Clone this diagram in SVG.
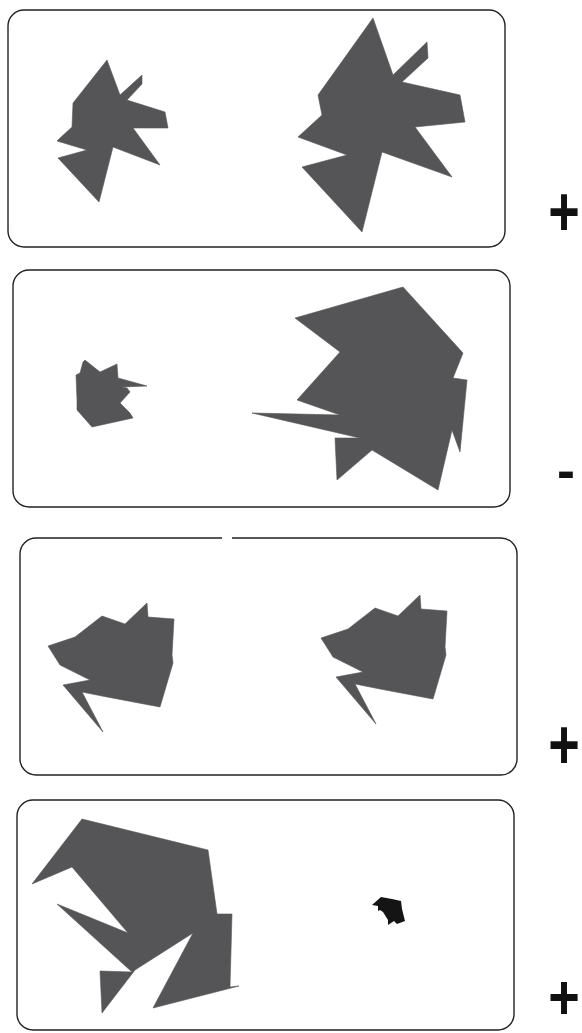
<svg xmlns="http://www.w3.org/2000/svg" width="582" height="1033" viewBox="0 0 582 1033">
<style>
.box{fill:none;stroke:#222;stroke-width:1.4}
.shape{fill:#555557;stroke:#555557;stroke-width:0.6;stroke-linejoin:miter}
.dark{fill:#141414}
.sign{font-family:"Liberation Sans",Arial,sans-serif;font-weight:bold;font-size:54px;fill:#111;text-anchor:middle}
</style>
<rect width="582" height="1033" fill="#fff"/>
<g id="panel1">
<rect class="box" x="8" y="10" width="497" height="237" rx="16"/>
<polygon class="shape" points="107,60 120,95 142,75 142,84 127,100 165,112 168,128 133,128 160,165 113,147 99,202 58,158 87,150 57,141 60,138 72,127 73,103"/>
<polygon class="shape" points="373,18 393,75 427,42 428,58 402,82 460,95 465,122 415,127 452,177 382,152 362,232 302,167 347,155 298,137 322,115 318,95"/>
<text class="sign" transform="translate(564,0) scale(1,1.3)" x="0" y="181.8">+</text>
</g>
<g id="panel2">
<rect class="box" x="13" y="270" width="497" height="237" rx="16"/>
<polygon class="shape" points="85,360 100,372 117,364 118,378 147,386 122,387 127,388 130,392 120,403 130,413 133,418 92,427 77,410 77,400 76,375 80,373 83,362"/>
<polygon class="shape" points="295,318 403,287 463,353 453,378 467,380 460,452 452,430 438,490 372,450 337,480 335,438 360,438 252,413 340,415 297,400 340,352"/>
<text class="sign" x="566" y="489" font-size="50">-</text>
</g>
<g id="panel3">
<path class="box" d="M222,538 H36 A16,16 0 0 0 20,554 V759 A16,16 0 0 0 36,775 H501 A16,16 0 0 0 517,759 V554 A16,16 0 0 0 501,538 H232"/>
<polygon class="shape" points="48,646 75,637 102,616 125,624 147,603 148,617 174,619 172,655 173,663 160,707 107,697 82,692 103,732 63,685 90,680 60,665"/>
<polygon class="shape" transform="translate(273,-8)" points="48,646 75,637 102,616 125,624 147,603 148,617 174,619 172,655 173,663 160,707 107,697 82,692 103,732 63,685 90,680 60,665"/>
<text class="sign" transform="translate(564,0) scale(1,1.3)" x="0" y="591.8">+</text>
</g>
<g id="panel4">
<rect class="box" x="17" y="800" width="497" height="230" rx="16"/>
<polygon class="shape" points="82,819 208,850 217,914 232,914 230,987 239,986 153,1008 193,933 135,970 102,1013 100,971 132,972 57,904 128,933 72,867 32,884"/>
<polygon class="dark" points="372,905 381,897 392,899 401,901 402,909 405,921 397,924 394,921 388,925 388,920 383,912 380,910 378,911 378,906"/>
<text class="sign" transform="translate(564,0) scale(1,1.15)" x="0" y="886.1">+</text>
</g>
</svg>
